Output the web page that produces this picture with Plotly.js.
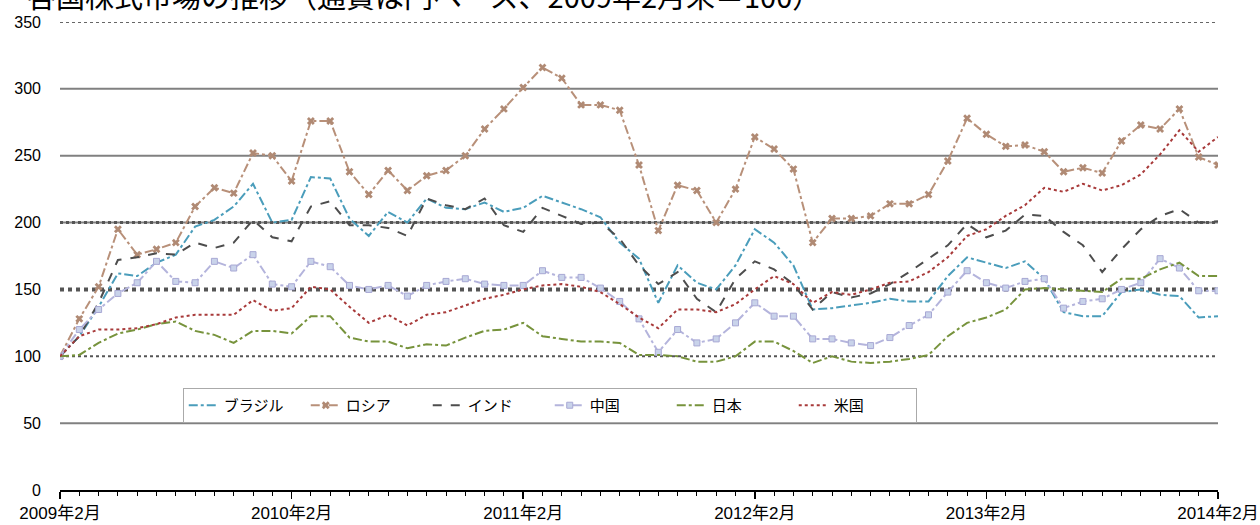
<!DOCTYPE html>
<html>
<head>
<meta charset="utf-8">
<script src="https://cdn.plot.ly/plotly-3.0.1.min.js"></script>
<style>html,body{margin:0;padding:0;background:#fff;}#chart{width:1260px;height:525px;}</style>
</head>
<body>
<div id="chart"></div>
<script>
// Month index 0 = 2009年2月 ... 60 = 2014年2月
const tickLabels = ["2009年2月","2010年2月","2011年2月","2012年2月","2013年2月","2014年2月"];
const tickPositions = [0,12,24,36,48,60];
const seriesNames = ["ブラジル","ロシア","インド","中国","日本","米国"];
const titleText = "各国株式市場の推移（通貨は円ベース、2009年2月末＝100）";

const brazil = [100,115,137,162,160,170,176,197,202,212,229,200,202,234,233,203,190,208,200,218,211,210,215,208,211,220,215,210,204,185,173,140,168,155,150,168,195,185,168,135,136,138,140,143,141,141,160,174,170,166,171,158,133,130,130,148,150,146,145,129,130];
const russia = [100,128,152,195,176,180,185,212,226,222,252,250,231,276,276,238,221,239,224,235,239,250,270,285,301,316,308,288,288,284,243,194,228,224,200,225,264,255,240,185,203,203,205,214,214,221,246,278,266,257,258,253,238,241,237,261,273,270,285,249,243];
const india  = [100,115,140,172,174,177,176,185,181,185,202,189,186,212,216,198,198,196,190,218,213,210,218,198,193,211,205,199,200,188,168,154,163,143,133,158,171,165,154,135,148,144,147,154,163,173,183,199,189,194,206,205,193,183,163,180,195,205,210,200,201];
const china  = [100,120,135,147,155,171,156,155,171,166,176,154,152,171,167,153,150,153,145,153,156,158,154,153,153,164,159,159,151,141,128,103,120,110,113,125,140,130,130,113,113,110,108,114,123,131,148,164,155,151,156,158,136,141,143,150,155,173,166,149,149];
const japan  = [100,101,110,117,120,124,126,119,116,110,119,119,117,130,130,114,111,111,106,109,108,114,119,120,125,115,113,111,111,110,101,101,100,96,96,100,111,111,104,95,100,96,95,96,98,101,115,125,129,135,150,151,150,149,148,158,158,165,170,160,160];
const usa    = [100,115,120,120,121,124,129,131,131,131,142,134,136,152,150,137,125,131,123,131,133,138,143,146,150,153,154,152,148,139,129,121,135,135,133,139,150,160,154,140,148,146,150,155,156,163,174,190,195,205,213,226,223,229,224,228,236,251,269,253,264];

const months = brazil.map((_, i) => i);
const seriesData = [brazil, russia, india, china, japan, usa];

const styles = [
  {line:{color:'#4a9dbb', width:2, dash:'dashdot'}, mode:'lines'},
  {line:{color:'#b89079', width:2, dash:'dashdot'}, mode:'lines+markers', marker:{symbol:'x', size:7, color:'#b08a74'}},
  {line:{color:'#4d4d4d', width:2, dash:'dash'}, mode:'lines'},
  {line:{color:'#b4b4dc', width:2, dash:'dashdot'}, mode:'lines+markers', marker:{symbol:'square', size:6, color:'#c9d3ea', line:{color:'#a8a8d4', width:1}}},
  {line:{color:'#77933c', width:2, dash:'dashdot'}, mode:'lines'},
  {line:{color:'#a83a3a', width:2, dash:'dot'}, mode:'lines'}
];

const traces = seriesData.map((ys, k) => Object.assign({
  type:'scatter', x: months, y: ys, name: seriesNames[k], hoverinfo:'skip'
}, styles[k]));

// gridline styles per y level
const gridLevels = [50,100,150,200,250,300,350];
const gridStyles = {
  50:  [{color:'#808080', width:2, dash:'solid'}],
  100: [{color:'#555555', width:2, dash:'dot'}],
  150: [{color:'#555555', width:4, dash:'dot'}],
  200: [{color:'#808080', width:2, dash:'solid'}, {color:'#555555', width:3, dash:'dot'}],
  250: [{color:'#808080', width:2, dash:'solid'}],
  300: [{color:'#808080', width:2, dash:'solid'}],
  350: [{color:'#666666', width:2, dash:'dot'}]
};
const shapes = [];
gridLevels.forEach(v => {
  gridStyles[v].forEach(st => {
    shapes.push({type:'line', xref:'paper', x0:0, x1:1, yref:'y', y0:v, y1:v, layer:'below', line:st});
  });
});

const layout = {
  width:1260, height:525,
  margin:{l:60, r:42, t:22, b:35},
  paper_bgcolor:'#fff', plot_bgcolor:'#fff',
  font:{family:'Liberation Sans, Arial, Noto Sans CJK JP, sans-serif', size:15, color:'#000'},
  annotations:[{
    text:titleText, showarrow:false,
    xref:'paper', x:-0.0302, xanchor:'left',
    yref:'paper', y:1.057, yanchor:'middle',
    font:{family:'Noto Sans CJK JP, sans-serif', size:29, color:'#000'}
  }],
  showlegend:true,
  legend:{orientation:'h', x:0.106, xanchor:'left', y:0.218, yanchor:'top',
          bordercolor:'#aaaaaa', borderwidth:1, bgcolor:'#fff',
          font:{family:'Noto Sans CJK JP, sans-serif', size:15, color:'#000'},
          entrywidth:77, entrywidthmode:'pixels', itemwidth:30, tracegroupgap:0},
  xaxis:{type:'linear', range:[0,60], tickmode:'array', tickvals:tickPositions, ticktext:tickLabels,
         showgrid:false, zeroline:false, showline:true, linecolor:'#000', linewidth:2,
         ticks:'outside', ticklen:7, tickwidth:1.5, tickcolor:'#000',
         minor:{tickmode:'linear', tick0:0, dtick:1, ticks:'outside', ticklen:4, tickwidth:1, tickcolor:'#000', showgrid:false},
         tickfont:{family:'Liberation Sans, Arial, Noto Sans CJK JP, sans-serif', size:17}, fixedrange:true},
  yaxis:{range:[0,350], tickmode:'array', tickvals:[0,50,100,150,200,250,300,350],
         showgrid:false, zeroline:false, showline:false, ticks:'', ticklabelstandoff:18,
         tickfont:{family:'Liberation Sans, Arial, sans-serif', size:16}, fixedrange:true},
  shapes: shapes
};

Plotly.newPlot('chart', traces, layout, {staticPlot:true, displayModeBar:false});
</script>
</body>
</html>
